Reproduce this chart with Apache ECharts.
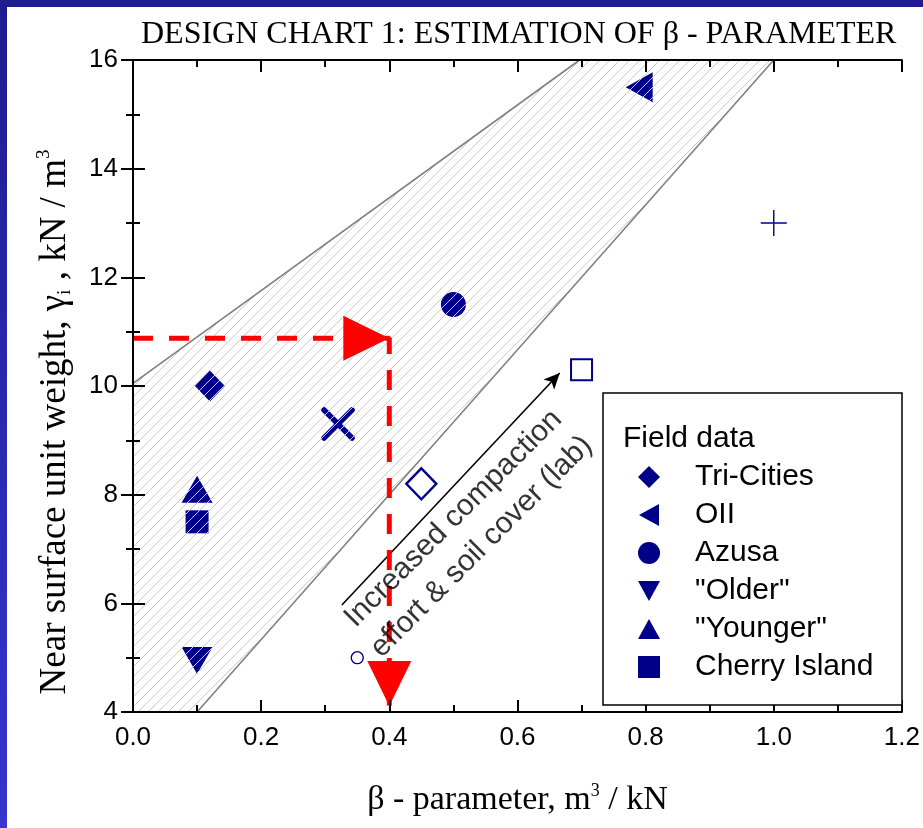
<!DOCTYPE html>
<html><head><meta charset="utf-8">
<script src="https://cdn.jsdelivr.net/npm/echarts@6/dist/echarts.min.js"></script>
<style>html,body{margin:0;padding:0;background:#fff}#c{width:923px;height:828px}</style>
</head><body><div id="c"></div>
<script>
// ---- data ----
const xTicks = [0, 0.2, 0.4, 0.6, 0.8, 1.0, 1.2];
const yTicks = [4, 6, 8, 10, 12, 14, 16];
const legendNames = ['Tri-Cities', 'OII', 'Azusa', '"Older"', '"Younger"', 'Cherry Island'];
const triCities = [[0.12, 10.0]];
const oii = [[0.79, 15.5]];
const azusa = [[0.5, 11.5]];
const older = [[0.1, 4.95]];
const younger = [[0.1, 8.1]];
const cherryIsland = [[0.1, 7.5]];
const labCross = [[0.32, 9.3]];
const labOpenDiamond = [[0.45, 8.2]];
const labOpenSquare = [[0.7, 10.3]];
const labOpenCircle = [[0.35, 5.0]];
const labPlus = [[1.0, 13.0]];
const bandX = [0, 0.1, 1.0, 0.697, 0];
const bandY = [4, 4, 16, 16, 10.05];
const upperEdge = [[0, 10.05], [0.697, 16]];
const lowerEdge = [[0.1, 4], [1.0, 16]];
const guideX = [0, 0.4, 0.4];
const guideY = [10.88, 10.88, 4.12];
const arrowFrom = [0.326, 5.97];
const arrowTo = [0.666, 10.24];
const noteAt = [0.522, 7.3];
const noteText = 'Increased compaction\neffort & soil cover (lab)';

// hatch pattern
function hatch() {
  const s = 10, c = document.createElement('canvas');
  c.width = s; c.height = s;
  const g = c.getContext('2d');
  g.strokeStyle = '#c8c8c8'; g.lineWidth = 1;
  g.beginPath();
  g.moveTo(-1, s + 1); g.lineTo(s + 1, -1);
  g.moveTo(-1, 1); g.lineTo(1, -1);
  g.moveTo(s - 1, s + 1); g.lineTo(s + 1, s - 1);
  g.stroke();
  return c;
}
const pat = hatch();
const navy = '#000088';

const chart = echarts.init(document.getElementById('c'), null, {renderer: 'canvas'});
const axisCommon = {
  type: 'value', z: 10,
  axisLine: {lineStyle: {color: '#000', width: 2}},
  axisTick: {inside: true, length: 12, lineStyle: {color: '#000', width: 2}},
  minorTick: {show: true, splitNumber: 2, length: 7, lineStyle: {color: '#000', width: 2}},
  splitLine: {show: false}
};
const serif = 'Liberation Serif, Times New Roman, serif';
const sans = 'Liberation Sans, Arial, sans-serif';
const solid = {color: navy, opacity: 1};

chart.setOption({
  animation: false,
  backgroundColor: '#fff',
  title: {
    text: 'DESIGN CHART 1: ESTIMATION OF β - PARAMETER',
    left: 136, top: 14,
    textStyle: {fontFamily: serif, fontSize: 32, fontWeight: 'normal', color: '#000'}
  },
  grid: {left: 133, top: 60, right: 15, bottom: 116},
  xAxis: [
    Object.assign({}, axisCommon, {
      min: 0, max: 1.2, interval: 0.2, position: 'bottom',
      axisLabel: {fontFamily: sans, fontSize: 26, color: '#000', margin: 13,
        formatter: v => xTicks.includes(+v.toFixed(1)) ? v.toFixed(1) : ''},
      name: '{t|β - parameter, m}{sup|3}{t| / kN}',
      nameLocation: 'middle', nameGap: 70,
      nameTextStyle: {rich: {
        t: {fontFamily: serif, fontSize: 34, color: '#000', lineHeight: 36},
        sup: {fontFamily: serif, fontSize: 18, color: '#000', verticalAlign: 'top', lineHeight: 36}
      }}
    }),
    Object.assign({}, axisCommon, {
      min: 0, max: 1.2, interval: 0.2, position: 'top',
      axisLabel: {show: false}
    })
  ],
  yAxis: [
    Object.assign({}, axisCommon, {
      min: 4, max: 16, interval: 2, position: 'left',
      axisLabel: {fontFamily: sans, fontSize: 26, color: '#000', margin: 15,
        formatter: v => yTicks.includes(v) ? String(v) : ''}
    }),
    Object.assign({}, axisCommon, {
      min: 4, max: 16, interval: 2, position: 'right',
      axisLabel: {show: false}
    })
  ],
  legend: {
    data: [
      {name: 'Tri-Cities', icon: 'diamond'},
      {name: 'OII', icon: 'path://M10,0L0,5.5L10,11Z'},
      {name: 'Azusa', icon: 'circle'},
      {name: '"Older"', icon: 'path://M0,0L10,0L5,9Z'},
      {name: '"Younger"', icon: 'path://M5,0L10,9L0,9Z'},
      {name: 'Cherry Island', icon: 'path://M0,0L10,0L10,10L0,10Z'}
    ],
    orient: 'vertical', left: 633, top: 455,
    itemWidth: 22, itemHeight: 22, itemGap: 4,
    itemStyle: {color: navy, opacity: 1},
    textStyle: {fontFamily: sans, fontSize: 30, color: '#000', padding: [0, 0, 0, 30], lineHeight: 34},
    z: 30, selectedMode: false
  },
  graphic: [
    {type: 'rect', z: 100, shape: {x: 0, y: 0, width: 923, height: 7}, style: {fill: '#1e1c8e'}},
    {type: 'rect', z: 100, shape: {x: 0, y: 0, width: 7, height: 828},
      style: {fill: new echarts.graphic.LinearGradient(0, 0, 0, 1, [{offset: 0, color: '#1e1c8e'}, {offset: 1, color: '#3535cf'}])}},
    {type: 'rect', z: 25, shape: {x: 603, y: 393, width: 299, height: 312},
      style: {fill: '#fff', stroke: '#000', lineWidth: 1.5}},
    {type: 'text', z: 31, left: 623, top: 424,
      style: {text: 'Field data', font: '30px ' + sans, fill: '#000'}},
    {type: 'text', z: 31, x: 55, y: 422, rotation: Math.PI / 2,
      style: {
        text: '{t|Near surface unit weight, γ}{sub|i}{t| , kN / m}{sup|3}',
        align: 'center', verticalAlign: 'middle',
        rich: {
          t: {fontFamily: serif, fontSize: 37, fill: '#000', lineHeight: 40},
          sub: {fontFamily: serif, fontSize: 19, fill: '#000', verticalAlign: 'bottom', lineHeight: 40},
          sup: {fontFamily: serif, fontSize: 19, fill: '#000', verticalAlign: 'top', lineHeight: 40}
        }
      }}
  ],
  series: [
    {name: 'Tri-Cities', type: 'scatter', data: triCities, symbol: 'diamond', symbolSize: [30, 31], itemStyle: solid, z: 2},
    {name: 'OII', type: 'scatter', data: oii, symbol: 'triangle', symbolRotate: 90, symbolSize: [30, 27], itemStyle: solid, z: 2},
    {name: 'Azusa', type: 'scatter', data: azusa, symbol: 'circle', symbolSize: 25, itemStyle: solid, z: 2},
    {name: '"Older"', type: 'scatter', data: older, symbol: 'triangle', symbolRotate: 180, symbolSize: [31, 27], itemStyle: solid, z: 2},
    {name: '"Younger"', type: 'scatter', data: younger, symbol: 'triangle', symbolSize: [31, 27], itemStyle: solid, z: 2},
    {name: 'Cherry Island', type: 'scatter', data: cherryIsland, symbol: 'rect', symbolSize: 23, itemStyle: solid, z: 2},
    {name: 'lab-x', type: 'scatter', data: labCross, symbol: 'path://M0,0L10,10M10,0L0,10', symbolSize: 28,
      itemStyle: {color: 'none', borderColor: navy, borderWidth: 5.5, borderCap: 'round', opacity: 1}, z: 2},
    {name: 'lab-diamond', type: 'scatter', data: labOpenDiamond, symbol: 'diamond', symbolSize: [30, 31],
      itemStyle: {color: 'rgba(0,0,0,0)', borderColor: navy, borderWidth: 2.4, opacity: 1}, z: 2},
    {name: 'lab-square', type: 'scatter', data: labOpenSquare, symbol: 'rect', symbolSize: 21,
      itemStyle: {color: 'rgba(0,0,0,0)', borderColor: navy, borderWidth: 2, opacity: 1}, z: 2},
    {name: 'lab-circle', type: 'scatter', data: labOpenCircle, symbol: 'circle', symbolSize: 12,
      itemStyle: {color: 'rgba(0,0,0,0)', borderColor: navy, borderWidth: 1.4, opacity: 1}, z: 2},
    {name: 'lab-plus', type: 'scatter', data: labPlus, symbol: 'path://M5,0L5,10M0,5L10,5', symbolSize: 26,
      itemStyle: {color: 'none', borderColor: navy, borderWidth: 1.4, opacity: 1}, z: 2},
    {name: 'band', type: 'custom', z: 3, silent: true,
      data: [0],
      renderItem: function (params, api) {
        const pts = bandX.map((x, i) => api.coord([x, bandY[i]]));
        return {type: 'polygon', shape: {points: pts},
          style: {fill: {image: pat, repeat: 'repeat'}, stroke: null}};
      }},
    {name: 'upper', type: 'line', data: upperEdge, symbol: 'none', z: 4,
      lineStyle: {color: '#808080', width: 1.6}},
    {name: 'lower', type: 'line', data: lowerEdge, symbol: 'none', z: 4,
      lineStyle: {color: '#808080', width: 1.6}},
    {name: 'guide', type: 'line', data: guideX.map((x, i) => [x, guideY[i]]), symbol: 'none', z: 5,
      lineStyle: {color: '#ff0000', width: 5, type: [20, 16]}},
    {name: 'guide-head-h', type: 'scatter', data: [[guideX[1], guideY[1]]], symbol: 'triangle', symbolRotate: -90,
      symbolSize: [45, 46], symbolOffset: [-23, 0], itemStyle: {color: '#ff0000', opacity: 1}, z: 6},
    {name: 'guide-head-v', type: 'scatter', data: [[guideX[2], guideY[2]]], symbol: 'triangle', symbolRotate: 180,
      symbolSize: [44, 45], symbolOffset: [0, -22], itemStyle: {color: '#ff0000', opacity: 1}, z: 6},
    {name: 'note', type: 'scatter', data: [noteAt], symbolSize: 0, z: 6,
      label: {show: true, position: 'inside', rotate: 45, formatter: noteText, align: 'center', verticalAlign: 'middle',
        fontFamily: sans, fontSize: 30, color: '#000', lineHeight: 40},
      markLine: {silent: true, symbol: ['none', 'arrow'], symbolSize: [11, 16], label: {show: false},
        lineStyle: {color: '#000', width: 1.6, type: 'solid'},
        data: [[{coord: arrowFrom}, {coord: arrowTo}]]}}
  ]
});
</script></body></html>
